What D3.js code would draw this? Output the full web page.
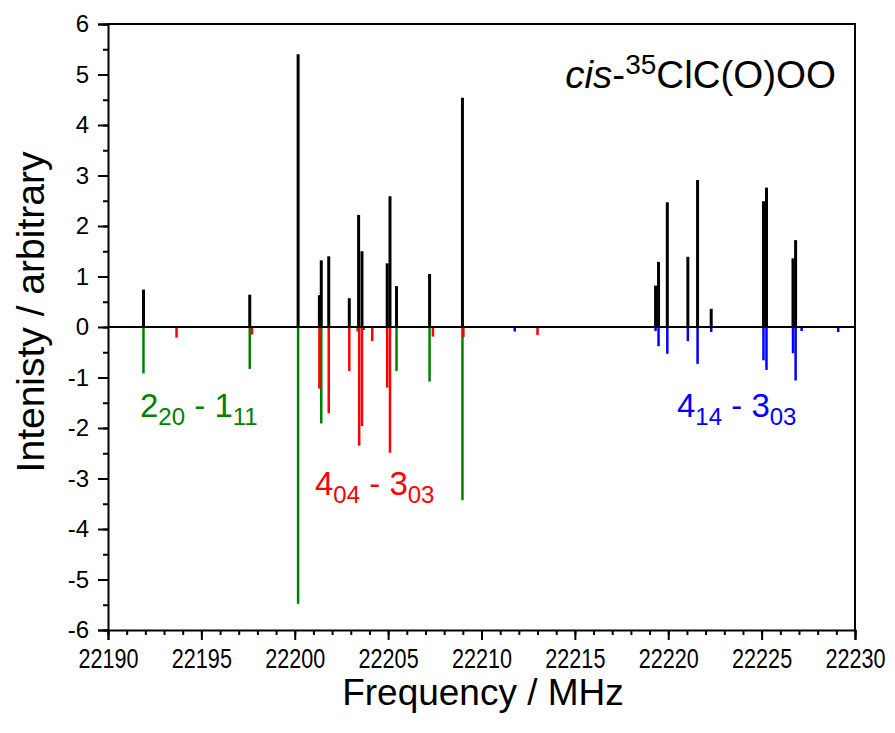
<!DOCTYPE html>
<html>
<head>
<meta charset="utf-8">
<script src="https://cdn.jsdelivr.net/npm/d3@7"></script>
<style>
  body { margin: 0; background: #fff; }
  svg text { font-family: "Liberation Sans", Arial, sans-serif; }
</style>
</head>
<body>
<svg id="chart" width="895" height="733"></svg>
<script>
// offsets from 22190 MHz would be easier to read, but keep full frequencies
const blackFreq = [22191.90, 22197.59, 22200.18, 22201.32, 22201.42, 22201.82, 22202.92, 22203.42, 22203.60,
    22204.95, 22205.10, 22205.45, 22207.22, 22208.98, 22219.32, 22219.48, 22219.95, 22221.05, 22221.57,
    22222.30, 22225.10, 22225.26, 22226.68, 22226.82];
const blackInt = [0.74, 0.64, 5.40, 0.63, 1.32, 1.40, 0.57, 2.22, 1.50,
    1.26, 2.59, 0.81, 1.05, 4.54, 0.82, 1.29, 2.47, 1.39, 2.91,
    0.36, 2.49, 2.76, 1.36, 1.72];

const greenFreq = [22191.90, 22197.59, 22200.18, 22201.42, 22203.37, 22203.70, 22205.45, 22207.22, 22208.98];
const greenInt = [-0.92, -0.83, -5.48, -1.91, -0.09, -0.06, -0.87, -1.08, -3.43];

const redFreq = [22193.67, 22197.71, 22201.32, 22201.82, 22202.92, 22203.45, 22203.60, 22204.15,
    22204.95, 22205.10, 22207.40, 22209.03, 22213.00];
const redInt = [-0.21, -0.15, -1.22, -1.71, -0.87, -2.35, -1.96, -0.28,
    -1.20, -2.49, -0.19, -0.20, -0.16];

const blueFreq = [22211.78, 22219.32, 22219.48, 22219.95, 22221.05, 22221.57, 22222.30,
    22225.10, 22225.26, 22226.68, 22226.82, 22227.14, 22229.10];
const blueInt = [-0.09, -0.08, -0.38, -0.53, -0.28, -0.73, -0.10,
    -0.66, -0.85, -0.52, -1.06, -0.08, -0.10];

const xTicks = [22190, 22195, 22200, 22205, 22210, 22215, 22220, 22225, 22230];
const yTicks = [-6, -5, -4, -3, -2, -1, 0, 1, 2, 3, 4, 5, 6];

const margin = { top: 24, right: 40, bottom: 103, left: 108 };
const width = 895, height = 733;
const svg = d3.select("#chart");

const x = d3.scaleLinear().domain([22190, 22230]).range([margin.left, width - margin.right]);
const y = d3.scaleLinear().domain([-6, 6]).range([height - margin.bottom, margin.top]);

const zip = (f, v) => f.map((d, i) => ({ f: d, v: v[i] }));

const drawSticks = (data, color, w) => {
    svg.append("g")
        .selectAll("line")
        .data(data)
        .enter()
        .append("line")
        .attr("x1", d => x(d.f)).attr("x2", d => x(d.f))
        .attr("y1", y(0)).attr("y2", d => y(d.v))
        .attr("stroke", color)
        .attr("stroke-width", w);
}

drawSticks(zip(blackFreq, blackInt), "#000", 3);
drawSticks(zip(greenFreq, greenInt), "#008000", 2.5);
drawSticks(zip(redFreq, redInt), "#ff0000", 2.5);
drawSticks(zip(blueFreq, blueInt), "#0000ff", 2.5);

// zero line
svg.append("line")
    .attr("x1", x(22190)).attr("x2", x(22230))
    .attr("y1", y(0)).attr("y2", y(0))
    .attr("stroke", "#000").attr("stroke-width", 2);

// axes
const plainFormat = d => String(d);

const xAxis = svg.append("g")
    .attr("transform", `translate(0,${y(-6)})`)
    .call(d3.axisBottom(x).tickValues(xTicks).tickFormat(plainFormat).tickSize(10).tickPadding(9));
svg.append("g")
    .attr("transform", `translate(0,${y(-6)})`)
    .call(d3.axisBottom(x).tickValues(d3.range(22190, 22231, 1)).tickFormat("").tickSize(5))
    .select(".domain").remove();

const yAxis = svg.append("g")
    .attr("transform", `translate(${x(22190)},0)`)
    .call(d3.axisLeft(y).tickValues(yTicks).tickFormat(plainFormat).tickSize(10).tickPadding(9));
svg.append("g")
    .attr("transform", `translate(${x(22190)},0)`)
    .call(d3.axisLeft(y).tickValues(d3.range(-6, 6.01, 0.5)).tickFormat("").tickSize(5))
    .select(".domain").remove();

svg.selectAll(".tick line").attr("stroke-width", 2);
svg.selectAll(".domain").attr("stroke-width", 2);
xAxis.selectAll("text")
    .attr("font-size", 27).attr("fill", "#000")
    .attr("transform", "scale(0.8,1)");
yAxis.selectAll("text").attr("font-size", 24).attr("fill", "#000");

// top and right frame
svg.append("path")
    .attr("d", `M${x(22190)},${y(6)}H${x(22230)}V${y(-6)}`)
    .attr("fill", "none").attr("stroke", "#000").attr("stroke-width", 2);

// axis titles
svg.append("text")
    .attr("x", 483).attr("y", 705)
    .attr("text-anchor", "middle").attr("font-size", 37)
    .text("Frequency / MHz");

svg.append("text")
    .attr("transform", `translate(44,312) rotate(-90)`)
    .attr("text-anchor", "middle").attr("font-size", 39)
    .text("Intenisty / arbitrary");

// molecule label
const title = svg.append("text")
    .attr("x", 836).attr("y", 88).attr("text-anchor", "end").attr("font-size", 38.5);
title.append("tspan").attr("font-style", "italic").text("cis");
title.append("tspan").text("-");
title.append("tspan").attr("font-size", 28).attr("dy", -14).text("35");
title.append("tspan").attr("dy", 14).text("ClC(O)OO");

// transition labels
const addTransition = (px, py, color, parts) => {
    const t = svg.append("text").attr("x", px).attr("y", py).attr("font-size", 33).attr("fill", color);
    t.append("tspan").text(parts[0]);
    t.append("tspan").attr("font-size", 24).attr("dy", 8).text(parts[1]);
    t.append("tspan").attr("dy", -8).text(" - " + parts[2]);
    t.append("tspan").attr("font-size", 24).attr("dy", 8).text(parts[3]);
}

addTransition(140, 417, "#008000", ["2", "20", "1", "11"]);
addTransition(315, 495, "#ff0000", ["4", "04", "3", "03"]);
addTransition(677, 417, "#0000ff", ["4", "14", "3", "03"]);
</script>
</body>
</html>
